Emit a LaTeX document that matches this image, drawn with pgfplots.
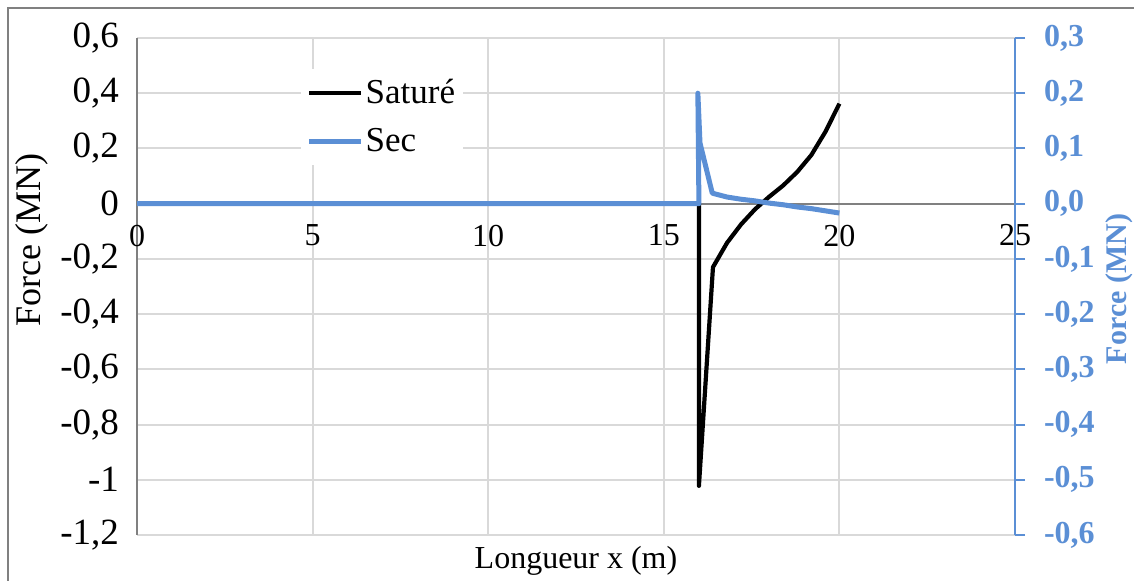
\documentclass[border=0pt]{standalone}
\usepackage{fontspec}
\setmainfont{Liberation Serif}
\usepackage{pgfplots}
\pgfplotsset{compat=1.18}
\definecolor{sec}{RGB}{91,143,213}
\definecolor{gridc}{RGB}{217,217,217}
\definecolor{axc}{RGB}{128,128,128}
\begin{document}
\begin{tikzpicture}
\useasboundingbox (-68.5pt,-23pt) rectangle (498.5pt,267.5pt);
\draw[axc, line width=0.85pt] (-64.5pt,-30pt) -- (-64.5pt,263.5pt) -- (505pt,263.5pt);
\begin{axis}[
  at={(0,0)}, anchor=south west,
  scale only axis, width=439pt, height=248.5pt,
  xmin=0, xmax=25, ymin=-1.2, ymax=0.6,
  axis y line*=left, axis x line*=middle,
  hide obscured x ticks=false,
  xtick={0,5,10,15,20,25},
  xticklabels={0,5,10,15,20,25},
  ytick={-1.2,-1,-0.8,-0.6,-0.4,-0.2,0,0.2,0.4,0.6},
  yticklabels={{-1,2},{-1},{-0,8},{-0,6},{-0,4},{-0,2},{0},{0,2},{0,4},{0,6}},
  grid=major, major grid style={gridc, line width=1pt},
  axis line style={axc, line width=1pt},
  major tick length=0pt,
  xticklabel style={yshift=-7pt, font=\fontsize{16}{19}\selectfont},
  yticklabel style={xshift=-5.5pt, font=\fontsize{18.5}{21}\selectfont},
  xlabel={Longueur x (m)},
  xlabel style={at={(rel axis cs:0.5,0)}, anchor=north, yshift=-2pt, font=\fontsize{16}{19}\selectfont},
  ylabel={Force (MN)},
  ylabel style={at={(rel axis cs:-0.12,0.594)}, anchor=center, font=\fontsize{18}{21}\selectfont},
  legend style={at={(rel axis cs:0.186,0.938)}, anchor=north west, fill=white, draw=none,
    font=\fontsize{17.5}{20}\selectfont, row sep=7pt, inner xsep=3pt, inner ysep=3pt,
    nodes={inner xsep=1pt}},
  legend cell align=left,
  legend image code/.code={\draw[#1] (0pt,0pt) -- (26pt,0pt);},
]
\addplot[black, line width=2.1pt, line join=round] coordinates {
  (0,0) (16,0) (16,-1.022) (16.4,-0.23) (16.8,-0.142) (17.2,-0.075) (17.6,-0.02)
  (18.0,0.025) (18.4,0.066) (18.8,0.115) (19.2,0.176) (19.6,0.26) (20,0.362)
};
\addlegendentry{Saturé}
\addlegendimage{sec, line width=2.5pt}
\addlegendentry{Sec}
\end{axis}
\begin{axis}[
  at={(0,0)}, anchor=south west,
  scale only axis, width=439pt, height=248.5pt,
  xmin=0, xmax=25, ymin=-0.6, ymax=0.3,
  axis y line*=right, axis x line=none,
  ytick={-0.6,-0.5,-0.4,-0.3,-0.2,-0.1,0,0.1,0.2,0.3},
  yticklabels={{-0,6},{-0,5},{-0,4},{-0,3},{-0,2},{-0,1},{0,0},{0,1},{0,2},{0,3}},
  axis line style={sec, line width=1pt},
  ytick style={sec, line width=1pt},
  tick align=outside, major tick length=5pt,
  yticklabel style={font=\bfseries\fontsize{16}{19}\selectfont, text=sec, xshift=6pt},
  ylabel={Force (MN)},
  ylabel style={at={(rel axis cs:1.119,0.495)}, anchor=center, font=\bfseries\fontsize{15}{18}\selectfont, text=sec},
]
\addplot[sec, line width=2.5pt, line join=round] coordinates {
  (0,0) (16,0) (15.97,0.2) (16.03,0.11) (16.38,0.019) (16.8,0.012) (17.2,0.008)
  (17.6,0.005) (18,0.001) (18.4,-0.002) (18.8,-0.006) (19.2,-0.009) (19.6,-0.013) (20,-0.017)
};
\end{axis}
\end{tikzpicture}
\end{document}
